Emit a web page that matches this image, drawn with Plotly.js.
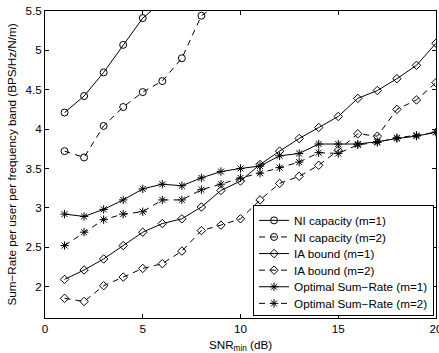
<!DOCTYPE html>
<html>
<head>
<meta charset="utf-8">
<script src="https://cdn.plot.ly/plotly-3.0.1.min.js"></script>
<style>html,body{margin:0;padding:0;background:#fff;}#chart{width:439px;height:353px;}</style>
</head>
<body>
<div id="chart"></div>
<script>
// SNR_min (dB)
var snr = [1,2,3,4,5,6,7,8,9,10,11,12,13,14,15,16,17,18,19,20];

// NI capacity (values beyond 5.5 continue off the visible area)
var niM1x = [1,2,3,4,5,6];
var niM1 = [4.21,4.42,4.72,5.07,5.41,5.62];
var niM2x = [1,2,3,4,5,6,7,8,9];
var niM2 = [3.72,3.64,4.04,4.28,4.47,4.61,4.90,5.44,5.61];

// IA bound
var iaM1 = [2.09,2.21,2.35,2.52,2.69,2.80,2.86,3.01,3.22,3.34,3.55,3.72,3.88,4.02,4.16,4.39,4.49,4.64,4.81,5.09];
var iaM2 = [1.85,1.81,2.01,2.12,2.23,2.29,2.45,2.71,2.78,2.86,3.10,3.31,3.40,3.54,3.73,3.94,3.91,4.25,4.37,4.59];

// Optimal Sum-Rate
var optM1 = [2.92,2.89,2.98,3.10,3.24,3.30,3.28,3.38,3.46,3.50,3.53,3.66,3.69,3.81,3.81,3.81,3.84,3.88,3.91,3.96];
var optM2 = [2.52,2.69,2.85,2.92,2.95,3.10,3.10,3.23,3.30,3.38,3.44,3.51,3.58,3.70,3.69,3.80,3.83,3.89,3.92,3.96];

var names = ['NI capacity (m=1)','NI capacity (m=2)','IA bound (m=1)','IA bound (m=2)','Optimal Sum\u2212Rate (m=1)','Optimal Sum\u2212Rate (m=2)'];

var dashed = '6px,5px';
function tr(x, y, name, sym, dash, size) {
  return {
    x: x, y: y, name: name, type: 'scatter', mode: 'lines+markers',
    line: {color: '#000', width: 1, dash: dash},
    marker: {symbol: sym, size: size, color: '#000', line: {color: '#000', width: 1}},
    cliponaxis: true
  };
}

var data = [
  tr(niM1x, niM1, names[0], 'circle-open', 'solid', 7),
  tr(niM2x, niM2, names[1], 'circle-open', dashed, 7),
  tr(snr, iaM1, names[2], 'diamond-open', 'solid', 6.5),
  tr(snr, iaM2, names[3], 'diamond-open', dashed, 6.5),
  tr(snr, optM1, names[4], 'asterisk-open', 'solid', 7),
  tr(snr, optM2, names[5], 'asterisk-open', dashed, 7)
];

var font = {family: 'Arial, "Liberation Sans", Helvetica, sans-serif', size: 11.7, color: '#000'};

var layout = {
  width: 439, height: 353,
  margin: {l: 45, r: 3, t: 11, b: 35},
  paper_bgcolor: '#fff', plot_bgcolor: '#fff',
  font: font,
  showlegend: true,
  legend: {
    x: 0.995, y: 0.005, xanchor: 'right', yanchor: 'bottom',
    bgcolor: '#fff', bordercolor: '#000', borderwidth: 1,
    font: font
  },
  xaxis: {
    range: [0, 20], tickvals: [0,5,10,15,20], ticktext: ['0','5','10','15','20'],
    ticks: 'inside', ticklen: 4, tickcolor: '#000',
    ticklabeloverflow: 'allow',
    showline: true, linecolor: '#000', linewidth: 1, mirror: 'ticks',
    showgrid: false, zeroline: false,
    title: {text: 'SNR<sub>min</sub> (dB)', font: font, standoff: 11}
  },
  yaxis: {
    range: [1.6, 5.5], tickvals: [2,2.5,3,3.5,4,4.5,5,5.5], ticktext: ['2','2.5','3','3.5','4','4.5','5','5.5'],
    ticks: 'inside', ticklen: 4, tickcolor: '#000',
    ticklabeloverflow: 'allow',
    showline: true, linecolor: '#000', linewidth: 1, mirror: 'ticks',
    showgrid: false, zeroline: false,
    title: {text: 'Sum\u2212Rate per user per frequency band (BPS/Hz/N/m)', font: font, standoff: 6}
  }
};

function parseT(s) {
  var m = /translate\(\s*([-\d.e]+)[\s,]+([-\d.e]+)\s*\)/.exec(s || '');
  return m ? [parseFloat(m[1]), parseFloat(m[2])] : [0, 0];
}

Plotly.newPlot('chart', data, layout, {displayModeBar: false, staticPlot: true}).then(function (gd) {
  // tighten legend row spacing to match the reference (about 16.6 px per row)
  var leg = gd.querySelector('.legend');
  if (!leg) return;
  var traces = leg.querySelectorAll('.traces');
  if (traces.length < 2) return;
  var pos = [];
  traces.forEach(function (t) { pos.push(parseT(t.getAttribute('transform'))); });
  var step = pos[1][1] - pos[0][1];
  var target = 16.6;
  if (!(step > target)) return;
  var shrink = (step - target) * traces.length;
  traces.forEach(function (t, i) {
    t.setAttribute('transform', 'translate(' + pos[i][0] + ',' + (pos[0][1] + i * target) + ')');
  });
  var bg = leg.querySelector('rect.bg');
  if (bg) bg.setAttribute('height', parseFloat(bg.getAttribute('height')) - shrink);
  var lt = parseT(leg.getAttribute('transform'));
  leg.setAttribute('transform', 'translate(' + lt[0] + ',' + (lt[1] + shrink) + ')');
});
</script>
</body>
</html>
